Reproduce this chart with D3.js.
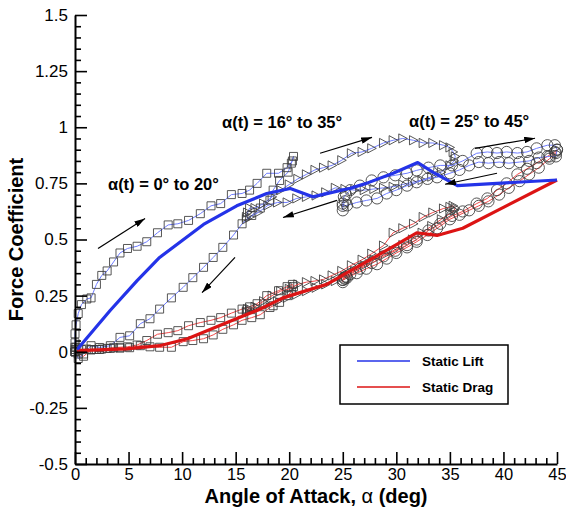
<!DOCTYPE html>
<html>
<head>
<meta charset="utf-8">
<script src="https://cdn.jsdelivr.net/npm/d3@7"></script>
<style>
  body { margin: 0; background: #fff; }
  svg { display: block; font-family: "Liberation Sans", Arial, Helvetica, sans-serif; }
</style>
</head>
<body>
<svg id="chart" width="566" height="511"></svg>
<script>
// ---------- Static polars ----------
const staticLiftAlpha = [0.2, 3.3, 5.8, 7.9, 12.0, 15.1, 17.9, 20.1, 22.2, 25.7, 27.2, 29.7, 32.0, 33.4, 35.7, 45];
const staticLift      = [0.01, 0.185, 0.317, 0.42, 0.567, 0.65, 0.705, 0.727, 0.69, 0.728, 0.75, 0.795, 0.843, 0.80, 0.74, 0.765];
const staticDragAlpha = [0.2, 4.8, 7.9, 10.5, 14.2, 17.3, 19.4, 23.5, 25.7, 29.4, 31.9, 33.8, 36.2, 40.0, 45];
const staticDrag      = [0.005, 0.013, 0.027, 0.058, 0.13, 0.19, 0.24, 0.30, 0.36, 0.46, 0.53, 0.518, 0.55, 0.643, 0.765];

// ---------- Pitching cycle alpha(t) = 0 to 20 deg (squares) ----------
const sqAlpha = [0, 0, 0, 0.1, 0.3, 0.6, 1.1, 1.5, 2.0, 2.5, 3.0, 3.6, 4.2, 4.9, 5.8, 6.7, 7.7, 8.7, 9.6, 10.6,
                 11.7, 12.7, 13.6, 14.6, 15.6, 16.3, 17.0, 17.9, 19.0, 19.8, 20.3,
                 20.4, 20.2, 19.9, 19.1, 18.5, 18.2, 17.3, 16.5, 15.6, 14.8, 13.8, 12.9, 12.0, 11.0, 10.1,
                 9.0, 7.9, 7.0, 6.1, 5.1, 4.2, 3.3, 2.3, 1.5, 0.8, 0.3, 0];
const sqLift  = [0.00, 0.04, 0.08, 0.12, 0.17, 0.21, 0.235, 0.24, 0.30, 0.34, 0.36, 0.40, 0.44, 0.46, 0.47,
                 0.49, 0.53, 0.565, 0.57, 0.585, 0.615, 0.65, 0.66, 0.70, 0.705, 0.72, 0.75, 0.795, 0.795, 0.82, 0.85,
                 0.87, 0.84, 0.80, 0.763, 0.72, 0.675, 0.64, 0.607, 0.57, 0.52, 0.465, 0.42, 0.376, 0.33, 0.287,
                 0.24, 0.19, 0.147, 0.125, 0.071, 0.064, 0.027, 0.019, 0.027, -0.01, -0.03, 0.0];
const sqDrag  = [0.0, 0.01, 0.02, 0.02, 0.015, 0.01, 0.012, 0.01, 0.01, 0.012, 0.015, 0.018, 0.02, 0.022, 0.03,
                 0.05, 0.078, 0.085, 0.094, 0.116, 0.13, 0.14, 0.152, 0.172, 0.19, 0.2, 0.214, 0.25, 0.272, 0.29, 0.30,
                 0.29, 0.27, 0.25, 0.22, 0.205, 0.197, 0.165, 0.152, 0.14, 0.12, 0.10, 0.075, 0.058, 0.05, 0.045,
                 0.02, 0.02, 0.022, 0.027, 0.018, 0.016, 0.015, 0.01, 0.008, -0.02, -0.01, 0.0];

// ---------- Pitching cycle alpha(t) = 16 to 35 deg (triangles) ----------
const triAlpha = [16.0, 16.1, 16.3, 16.8, 17.6, 18.4, 19.2, 20.0, 20.8, 21.6, 22.4, 23.2, 24.0, 24.9, 25.8,
                  26.8, 27.7, 28.8, 29.7, 30.6, 31.6, 32.5, 33.4, 34.4, 35.0, 35.3, 35.5,
                  35.4, 35.0, 34.2, 33.3, 32.4, 31.5, 30.6, 29.7, 28.8, 27.9, 27.0, 26.1, 25.2, 24.3, 23.4,
                  22.5, 21.6, 20.7, 19.8, 18.9, 18.0, 17.1, 16.3, 16.0];
const triLift  = [0.60, 0.62, 0.64, 0.64, 0.66, 0.69, 0.72, 0.745, 0.77, 0.79, 0.81, 0.82, 0.83, 0.853, 0.884,
                  0.89, 0.906, 0.93, 0.942, 0.95, 0.942, 0.93, 0.93, 0.92, 0.91, 0.89, 0.87,
                  0.85, 0.83, 0.80, 0.78, 0.765, 0.755, 0.745, 0.735, 0.73, 0.725, 0.72, 0.72, 0.725, 0.73, 0.71,
                  0.696, 0.69, 0.683, 0.665, 0.665, 0.652, 0.62, 0.60, 0.59];
const triDrag  = [0.18, 0.19, 0.19, 0.20, 0.225, 0.25, 0.27, 0.28, 0.30, 0.31, 0.315, 0.322, 0.34, 0.36, 0.385,
                  0.41, 0.437, 0.473, 0.53, 0.55, 0.57, 0.60, 0.62, 0.638, 0.645, 0.65, 0.64,
                  0.63, 0.615, 0.59, 0.56, 0.53, 0.50, 0.475, 0.45, 0.43, 0.41, 0.385, 0.36, 0.335, 0.315, 0.30,
                  0.285, 0.27, 0.255, 0.24, 0.225, 0.21, 0.195, 0.18, 0.175];

// ---------- Pitching cycle alpha(t) = 25 to 45 deg (circles) ----------
const cirAlpha = [25.0, 25.0, 25.1, 25.3, 25.7, 26.6, 27.7, 28.8, 29.9, 31.0, 31.9, 33.0, 34.1, 35.2, 36.2,
                  37.5, 38.5, 39.4, 40.3, 41.3, 42.2, 43.1, 44.1, 44.8, 45.0,
                  44.9, 44.3, 43.3, 42.4, 41.5, 40.5, 39.6, 38.6, 37.7, 36.8, 35.9, 35.0, 33.8, 32.9, 31.9,
                  31.0, 30.0, 29.1, 28.2, 27.2, 26.3, 25.4, 25.0, 25.2];
const cirLift  = [0.63, 0.66, 0.69, 0.70, 0.72, 0.74, 0.763, 0.777, 0.786, 0.795, 0.808, 0.82, 0.83, 0.83, 0.85,
                  0.884, 0.89, 0.885, 0.89, 0.885, 0.89, 0.906, 0.92, 0.92, 0.90,
                  0.87, 0.87, 0.865, 0.85, 0.845, 0.84, 0.845, 0.84, 0.845, 0.83, 0.81, 0.795, 0.777, 0.77, 0.755,
                  0.74, 0.72, 0.705, 0.683, 0.674, 0.665, 0.652, 0.65, 0.67];
const cirDrag  = [0.31, 0.32, 0.33, 0.335, 0.345, 0.37, 0.395, 0.425, 0.45, 0.475, 0.50, 0.54, 0.57, 0.605, 0.625,
                  0.66, 0.683, 0.72, 0.75, 0.79, 0.815, 0.84, 0.87, 0.89, 0.90,
                  0.885, 0.86, 0.82, 0.79, 0.76, 0.73, 0.70, 0.67, 0.65, 0.63, 0.61, 0.59, 0.55, 0.52, 0.49,
                  0.465, 0.44, 0.415, 0.39, 0.37, 0.35, 0.33, 0.32, 0.325];

// ---------- Axis ticks ----------
const yMajorTicks = [-0.5, -0.25, 0, 0.25, 0.5, 0.75, 1, 1.25, 1.5];
const xMajorTicks = [0, 5, 10, 15, 20, 25, 30, 35, 40, 45];

// ---------- Labels ----------
const cycleLabels = ["\u03B1(t) = 0\u00B0 to 20\u00B0", "\u03B1(t) = 16\u00B0 to 35\u00B0", "\u03B1(t) = 25\u00B0 to 45\u00B0"];
const legendLabels = ["Static Lift", "Static Drag"];

// ---------- Layout ----------
const svg = d3.select("#chart");
const x = d3.scaleLinear().domain([0, 45]).range([75, 557]);
const y = d3.scaleLinear().domain([-0.5, 1.5]).range([464, 15]);

const thinLift = "#6f7dff", thinDrag = "#f04848";
const thickLift = "#2433e8", thickDrag = "#dc1414";
const markerStroke = "#3a3a3a";

const loops = [
  { alpha: sqAlpha,  lift: sqLift,  drag: sqDrag,  shape: "square" },
  { alpha: triAlpha, lift: triLift, drag: triDrag, shape: "triangle" },
  { alpha: cirAlpha, lift: cirLift, drag: cirDrag, shape: "circle" }
];

const line = d3.line().x(d => x(d[0])).y(d => y(d[1]));

const gLoops = svg.append("g");
function markerPath(shape) {
  if (shape === "square") return "M-4,-4H4V4H-4Z";
  if (shape === "triangle") return "M-4,-4.6L4.6,0L-4,4.6Z";
  return d3.symbol(d3.symbolCircle, Math.PI * 5.6 * 5.6)();
}
loops.forEach(lp => {
  const liftPts = lp.alpha.map((a, i) => [a, lp.lift[i]]);
  const dragPts = lp.alpha.map((a, i) => [a, lp.drag[i]]);
  [[dragPts, thinDrag], [liftPts, thinLift]].forEach(([pts, col]) => {
    gLoops.append("path").attr("d", line(pts))
      .attr("fill", "none").attr("stroke", col).attr("stroke-width", 1);
  });
  const path = markerPath(lp.shape);
  [dragPts, liftPts].forEach(pts => {
    gLoops.append("g").selectAll("path").data(pts).join("path")
      .attr("d", path)
      .attr("transform", d => `translate(${x(d[0])},${y(d[1])})`)
      .attr("fill", "none").attr("stroke", markerStroke).attr("stroke-width", 1)
      .attr("stroke-opacity", 0.85);
  });
});

// static curves drawn above the cycle data
svg.append("path")
  .attr("d", line(staticDragAlpha.map((a, i) => [a, staticDrag[i]])))
  .attr("fill", "none").attr("stroke", thickDrag).attr("stroke-width", 3.2).attr("stroke-linejoin", "round");
svg.append("path")
  .attr("d", line(staticLiftAlpha.map((a, i) => [a, staticLift[i]])))
  .attr("fill", "none").attr("stroke", thickLift).attr("stroke-width", 3.2).attr("stroke-linejoin", "round");

// ---------- Axes ----------
const fmt = d => String(d);
const yMinor = d3.range(-0.5, 1.5001, 0.05).map(v => +v.toFixed(2)).filter(v => !yMajorTicks.includes(v));
const xMinor = d3.range(0, 46, 1).filter(v => v % 5 !== 0);

const gy = svg.append("g").attr("transform", `translate(${x(0)},0)`);
gy.call(d3.axisLeft(y).tickValues(yMajorTicks).tickFormat(fmt).tickSizeInner(-12).tickSizeOuter(0).tickPadding(7));
gy.append("g").call(d3.axisLeft(y).tickValues(yMinor).tickFormat("").tickSizeInner(-6).tickSizeOuter(0))
  .select(".domain").remove();

const gx = svg.append("g").attr("transform", `translate(0,${y(-0.5)})`);
gx.call(d3.axisBottom(x).tickValues(xMajorTicks).tickFormat(fmt).tickSizeInner(-12).tickSizeOuter(0).tickPadding(4));
gx.append("g").call(d3.axisBottom(x).tickValues(xMinor).tickFormat("").tickSizeInner(-6).tickSizeOuter(0))
  .select(".domain").remove();

svg.selectAll(".domain").attr("stroke", "#000").attr("stroke-width", 2);
svg.selectAll(".tick line").attr("stroke", "#000").attr("stroke-width", 1.6);
gy.selectAll(".tick text").attr("font-size", 17);
gx.selectAll(".tick text").attr("font-size", 16.5);
svg.selectAll(".tick text").attr("fill", "#000")
  .attr("font-family", "'Liberation Sans', Arial, sans-serif");

// axis titles
const xTitle = svg.append("text")
  .attr("x", 316).attr("y", 503)
  .attr("text-anchor", "middle").attr("font-size", 20).attr("font-weight", "bold");
xTitle.append("tspan").text("Angle of Attack, ");
xTitle.append("tspan").attr("font-weight", "normal").text("\u03B1");
xTitle.append("tspan").text(" (deg)");

svg.append("text")
  .attr("transform", `translate(23,${(y(-0.5) + y(1.5)) / 2}) rotate(-90)`)
  .attr("text-anchor", "middle").attr("font-size", 20).attr("font-weight", "bold")
  .text("Force Coefficient");

// ---------- Cycle annotations ----------
const labelPos = [[3.08, 0.719], [13.73, 0.996], [31.19, 1.0]];
cycleLabels.forEach((t, i) => {
  svg.append("text")
    .attr("x", x(labelPos[i][0])).attr("y", y(labelPos[i][1]))
    .attr("font-size", 16.5).attr("font-weight", "bold").attr("fill", "#000")
    .text(t);
});

svg.append("defs").append("marker")
  .attr("id", "head").attr("viewBox", "0 0 10 6")
  .attr("refX", 10).attr("refY", 3)
  .attr("markerUnits", "userSpaceOnUse")
  .attr("markerWidth", 11).attr("markerHeight", 6.5)
  .attr("orient", "auto")
  .append("path").attr("d", "M0,0L10,3L0,6Z").attr("fill", "#000");

const arrowPos = [
  [[2.15, 0.46], [6.54, 0.594]],
  [[14.94, 0.42], [11.86, 0.263]],
  [[24.46, 0.674], [19.42, 0.598]],
  [[22.88, 0.884], [27.73, 0.955]],
  [[37.35, 0.906], [42.95, 0.951]],
  [[39.4, 0.795], [34.55, 0.746]]
];
arrowPos.forEach(([a, b]) => {
  svg.append("line")
    .attr("x1", x(a[0])).attr("y1", y(a[1]))
    .attr("x2", x(b[0])).attr("y2", y(b[1]))
    .attr("stroke", "#000").attr("stroke-width", 1.2)
    .attr("marker-end", "url(#head)");
});

// ---------- Legend ----------
const lg = svg.append("g").attr("transform", "translate(340,345)");
lg.append("rect").attr("width", 168).attr("height", 59)
  .attr("fill", "#fff").attr("stroke", "#000").attr("stroke-width", 1.5);
[[thickLift, 16], [thickDrag, 42]].forEach(([col, ly], i) => {
  lg.append("line").attr("x1", 17).attr("x2", 70).attr("y1", ly).attr("y2", ly)
    .attr("stroke", col).attr("stroke-width", 1.5);
  lg.append("text").attr("x", 82).attr("y", ly + 5)
    .attr("font-size", 13.5).attr("font-weight", "bold").text(legendLabels[i]);
});
</script>
</body>
</html>
